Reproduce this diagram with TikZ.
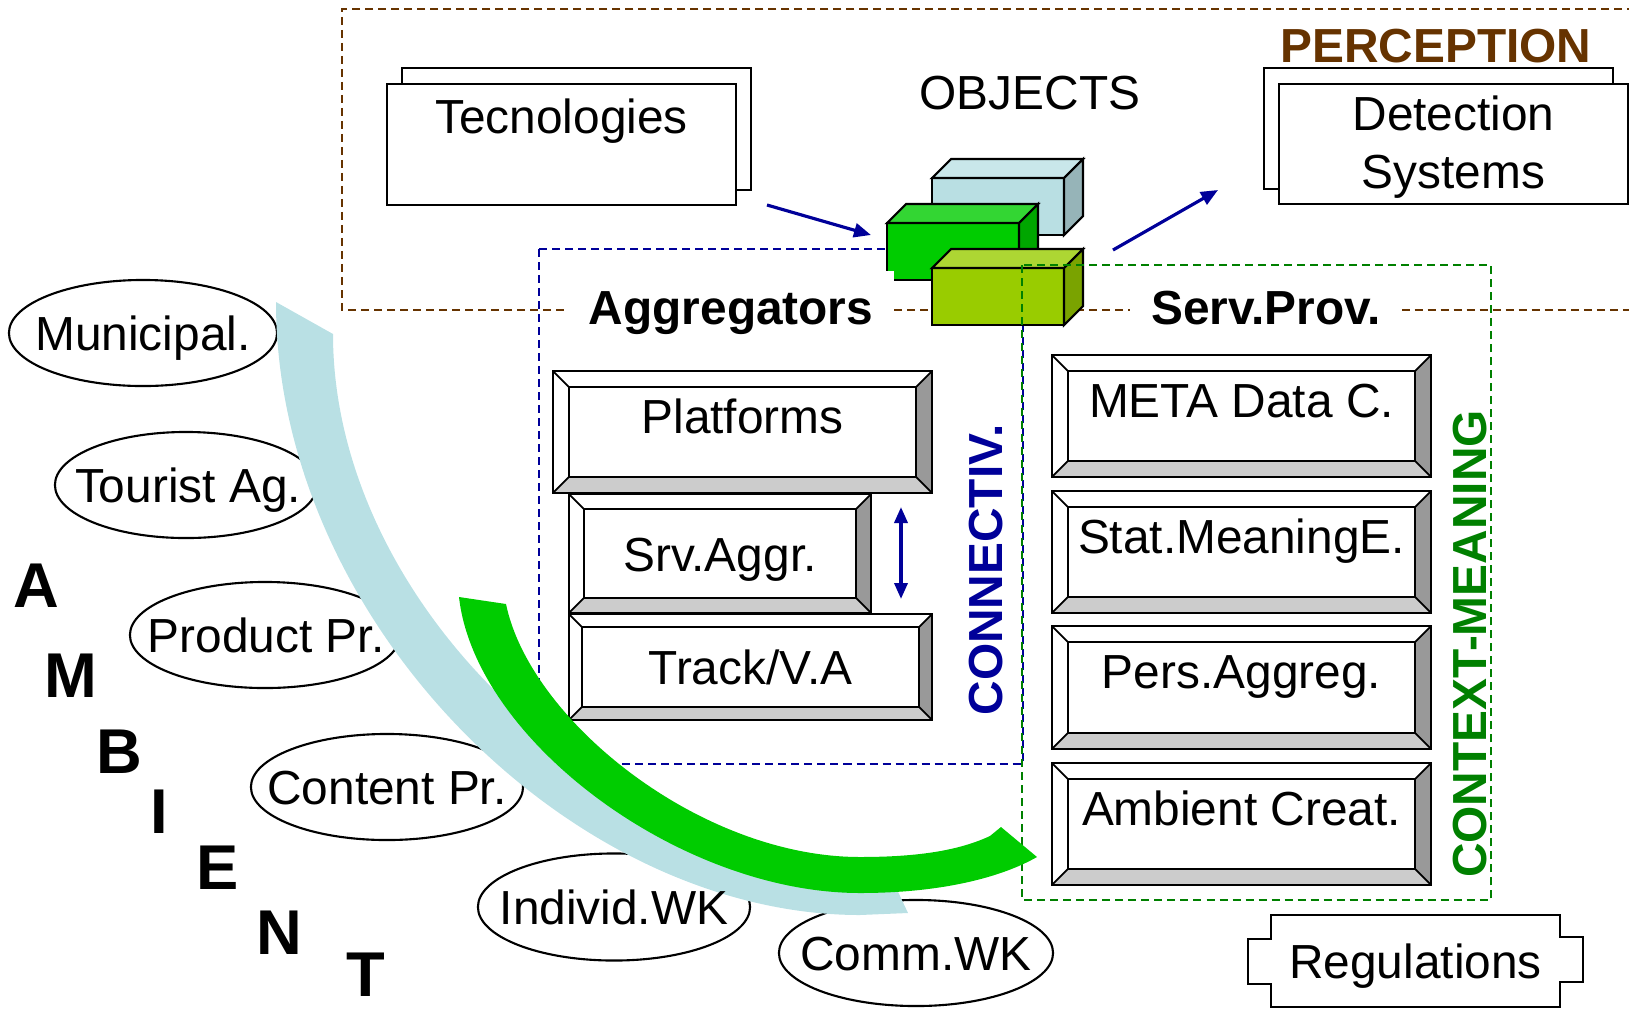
\documentclass[tikz,border=0pt]{standalone}
\usepackage{fontspec}
\setmainfont{Liberation Sans}
\usepackage{tikz}
\usetikzlibrary{positioning}
\usetikzlibrary{arrows.meta}

\definecolor{connblue}{HTML}{000099}
\definecolor{percbrown}{HTML}{663300}
\definecolor{ctxgreen}{HTML}{008000}
\definecolor{skyband}{HTML}{B9E0E4}
\definecolor{leafband}{HTML}{00CC00}
\definecolor{bevlo}{HTML}{CCCCCC}
\definecolor{bevhi}{HTML}{999999}
% cube faces: front / top / side
\definecolor{iceF}{HTML}{B9DFE3}
\definecolor{iceT}{HTML}{C9E7EA}
\definecolor{iceS}{HTML}{96B4B8}
\definecolor{grnF}{HTML}{00CC00}
\definecolor{grnT}{HTML}{33D633}
\definecolor{grnS}{HTML}{00A600}
\definecolor{limF}{HTML}{99CC00}
\definecolor{limT}{HTML}{ADD633}
\definecolor{limS}{HTML}{7AA300}

% NOTE: FACETS OF A BEVELLED BUTTON, DRAWN AS A PATH PICTURE
%       #1 IS THE WIDTH OF THE BEVEL (WITH A UNIT!)
\newcommand{\bevfacets}[1]{%
	\coordinate (bsw) at (path picture bounding box.south west);
	\coordinate (bse) at (path picture bounding box.south east);
	\coordinate (bne) at (path picture bounding box.north east);
	\coordinate (bnw) at (path picture bounding box.north west);
	\fill[bevlo] (bsw) -- (bse) -- ([shift={(-#1,#1)}]bse) -- ([shift={(#1,#1)}]bsw) -- cycle;
	\fill[bevhi] (bse) -- (bne) -- ([shift={(-#1,-#1)}]bne) -- ([shift={(-#1,#1)}]bse) -- cycle;
	\draw[line width=.5pt] ([shift={(#1,#1)}]bsw) rectangle ([shift={(-#1,-#1)}]bne)
		(bsw) -- ([shift={(#1,#1)}]bsw)   (bse) -- ([shift={(-#1,#1)}]bse)
		(bne) -- ([shift={(-#1,-#1)}]bne) (bnw) -- ([shift={(#1,-#1)}]bnw);
}

% NOTE: A BOX IN PERSPECTIVE, #1,#2 = LOWER LEFT CORNER OF THE FRONT FACE
\newcommand{\objcube}[5]{%
	\filldraw[fill=#3, line width=.6pt] (#1,#2) rectangle ++(132,-57);
	\filldraw[fill=#4, line width=.6pt] (#1,#2) ++(0,-57) -- ++(19,-19) -- ++(132,0) -- ++(-19,19) -- cycle;
	\filldraw[fill=#5, line width=.6pt] (#1,#2) ++(132,0) -- ++(0,-57) -- ++(19,-19) -- ++(0,57) -- cycle;
}

\tikzset{
	sheet/.style={draw, fill=white, line width=.6pt, inner sep=0pt},
	bevelbox/.style={draw, fill=white, line width=.7pt, inner sep=0pt, path picture={\bevfacets{#1}}},
	bevelbox/.default=0.16cm,
	captop/.style={text height=.34cm, text depth=.32cm},
	capmid/.style={text height=.35cm, text depth=0pt},
	ring/.style={line width=.6pt},
	tag/.style={anchor=base, fill=white, inner xsep=.21cm, inner ysep=.2cm, font=\fontsize{13.6}{16.5}\selectfont\bfseries},
	zone/.style={dashed, dash pattern=on .08cm off .05cm, line width=.6pt},
	flow/.style={-{Triangle[length=.17cm,width=.14cm]}, connblue, line width=.9pt},
	letter/.style={font=\fontsize{18}{20}\selectfont\bfseries, inner sep=0pt},
}

\begin{document}
\begin{tikzpicture}[x=0.01cm, y=-0.01cm, font=\fontsize{13.6}{16.5}\selectfont]

	\useasboundingbox (0,0) rectangle (1629,1008);

	% Frames (the brown one runs off the right edge)
	\draw[zone, percbrown] (1700,9) -- (342,9) -- (342,310) -- (1700,310);
	\draw[zone, connblue] (539,249) rectangle (1023,764);

	%%%%%%%%%%%%%%%%%%%%%%%%%%%%%%%%%%%%%%%%%%%%%%%%%%%%%%%%%%%%%%
	% Top row
	\node[sheet, minimum width=3.49cm, minimum height=1.22cm] (tecbk) at (576.5,129) {};
	\node[sheet, minimum width=3.49cm, minimum height=1.21cm, text height=.34cm, text depth=.57cm] (tec) at (561.5,144.5) {Tecnologies};

	\node[sheet, minimum width=3.49cm, minimum height=1.21cm] (detbk) at (1438.5,128.5) {};
	\node[sheet, minimum width=3.49cm, minimum height=1.20cm] (det) at (1453.5,144) {};
	\node[align=center, anchor=north, inner xsep=0pt, inner ysep=.12cm] (dettxt) at (det.north) {Detection\\Systems};

	\node[anchor=base] (objects) at (1030,109) {OBJECTS};
	\node[anchor=base, percbrown, font=\fontsize{13.6}{16.5}\selectfont\bfseries] (perc) at (1436,62) {PERCEPTION};

	% The three objects
	\objcube{932}{235}{iceF}{iceT}{iceS}
	\objcube{887}{280}{grnF}{grnT}{grnS}
	\objcube{932}{325}{limF}{limT}{limS}

	\draw[zone, ctxgreen] (1022,265) rectangle (1491,900);

	\node[tag] (aggr) at (731,324) {Aggregators};
	\node[tag] (serv) at (1266,324) {Serv.Prov.};

	% Free ends of the arrows
	\coordinate (tecout) at (767,205);
	\coordinate (objin)  at (871,235);
	\coordinate (objout) at (1113,250);
	\coordinate (detin)  at (1218,190);

	\draw[flow] (tecout) -- (objin);
	\draw[flow] (objout) -- (detin);

	%%%%%%%%%%%%%%%%%%%%%%%%%%%%%%%%%%%%%%%%%%%%%%%%%%%%%%%%%%%%%%
	% Aggregators stack
	\node[bevelbox, captop, minimum width=3.79cm, minimum height=1.22cm] (plat) at (742.5,432) {Platforms};
	\node[bevelbox=.15cm, capmid, minimum width=3.02cm, minimum height=1.19cm] (srv) at (720,553.5) {Srv.Aggr.};
	\node[bevelbox=.13cm, capmid, minimum width=3.63cm, minimum height=1.06cm] (track) at (750.5,667) {Track/V.A};

	\coordinate (linkup) at (901,507);
	\coordinate (linkdn) at (901,599);
	\draw[{Triangle[length=.16cm,width=.13cm]}-{Triangle[length=.16cm,width=.13cm]}, connblue, line width=1pt] (linkup) -- (linkdn);

	\node[rotate=90, connblue, font=\fontsize{13.6}{16.5}\selectfont\bfseries] (conn) at (986,570) {CONNECTIV.};

	% Service providers stack
	\node[bevelbox, captop, minimum width=3.79cm, minimum height=1.22cm] (meta) at (1241.5,416) {META Data C.};
	\node[bevelbox, captop, minimum width=3.79cm, minimum height=1.22cm] (stat) at (1241.5,552) {Stat.MeaningE.};
	\node[bevelbox, captop, minimum width=3.79cm, minimum height=1.23cm] (pers) at (1241.5,687.5) {Pers.Aggreg.};
	\node[bevelbox, captop, minimum width=3.79cm, minimum height=1.22cm] (amb) at (1241.5,824) {Ambient Creat.};

	\node[rotate=90, ctxgreen, font=\fontsize{13.6}{16.5}\selectfont\bfseries] (ctx) at (1470,644) {CONTEXT-MEANING};

	% Regulations
	\node[capmid, inner sep=0pt, minimum width=2.87cm, minimum height=.9cm] (reg) at (1415.5,961) {Regulations};
	\draw[ring] (reg.north west) -- (reg.north east) -- ++(0,22) -- ++(23,0) -- ++(0,45) -- ++(-23,0)
		-- (reg.south east) -- (reg.south west) -- ++(0,-23) -- ++(-23,0) -- ++(0,-45) -- ++(23,0) -- cycle;

	%%%%%%%%%%%%%%%%%%%%%%%%%%%%%%%%%%%%%%%%%%%%%%%%%%%%%%%%%%%%%%
	% Ambient actors: outlines first, the two bands go over them
	\draw[ring] (143,333) ellipse [x radius=1.34cm, y radius=.53cm];
	\draw[ring] (186,485) ellipse [x radius=1.31cm, y radius=.53cm];
	\draw[ring] (265,635) ellipse [x radius=1.35cm, y radius=.53cm];
	\draw[ring] (387,787) ellipse [x radius=1.36cm, y radius=.53cm];
	\draw[ring] (614,907) ellipse [x radius=1.36cm, y radius=.535cm];
	\draw[ring] (916,953) ellipse [x radius=1.37cm, y radius=.53cm];

	\fill[skyband] (276,302) -- (333,334) .. controls (333,600) and (600,862) .. (884,862)
		-- (908,913) -- (860,915) .. controls (570,915) and (276,620) .. (276,302) -- cycle;

	\fill[leafband] (459,597) .. controls (475,740) and (680,893) .. (860,893)
		.. controls (940,893) and (1000,878) .. (1037,857) -- (1001,827) -- (990,836)
		.. controls (960,850) and (920,857) .. (860,857)
		.. controls (700,857) and (530,720) .. (506,604) -- cycle;

	\node[capmid] (mun)  at (143,333) {Municipal.};
	\node[capmid] (tour) at (188,485) {Tourist Ag.};
	\node[capmid] (prod) at (266,635) {Product Pr.};
	\node[capmid] (cont) at (387,787) {Content Pr.};
	\node[capmid] (indv) at (614,907) {Individ.WK};
	\node[capmid] (comm) at (916,953) {Comm.WK};

	% A M B I E N T, stepping down to the right
	\node[letter] (la) at (36,586)  {A};
	\node[letter] (lm) at (71,676)  {M};
	\node[letter] (lb) at (119,752) {B};
	\node[letter] (li) at (159,812) {I};
	\node[letter] (le) at (218,868) {E};
	\node[letter] (ln) at (279,933) {N};
	\node[letter] (lt) at (366,975) {T};

\end{tikzpicture}
\end{document}
